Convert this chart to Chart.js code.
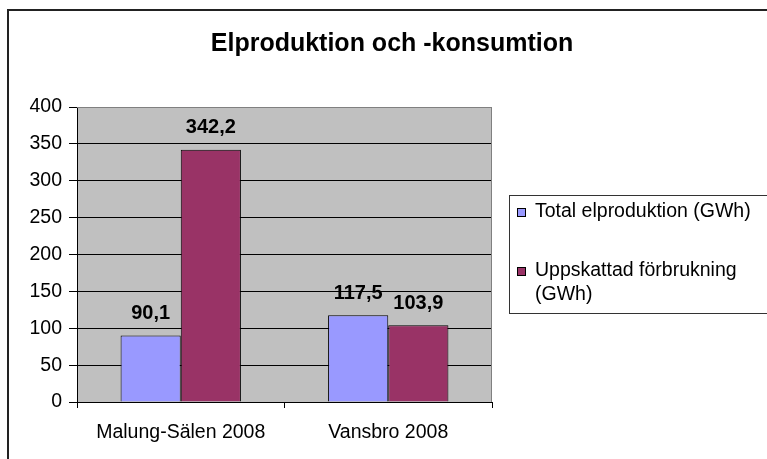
<!DOCTYPE html>
<html>
<head>
<meta charset="utf-8">
<script src="https://cdn.jsdelivr.net/npm/chart.js@4.4.0/dist/chart.umd.min.js"></script>
<style>
  html, body { margin: 0; padding: 0; background: #fff; }
  #wrap { width: 767px; height: 459px; }
</style>
</head>
<body>
<div id="wrap"><canvas id="myChart" width="767" height="459"></canvas></div>
<script>
// chart data
const categories = ['Malung-Sälen 2008', 'Vansbro 2008'];
const production = [90.1, 117.5];
const consumption = [342.2, 103.9];
const seriesNames = ['Total elproduktion (GWh)', 'Uppskattad förbrukning (GWh)'];
const yMin = 0;
const yMax = 400;
const yStep = 50;
const chartTitle = 'Elproduktion och -konsumtion';

const baseFont = 'Liberation Sans, Arial, sans-serif';

function fmt(v){
    return v.toFixed(1).replace('.', ',');
}

// gray plot background + gray top/right border + outer frame + title
const plotBackground = {
    id: 'plotBackground',
    beforeDraw(chart){
        const c = chart.ctx;
        const a = chart.chartArea;
        c.save();
        c.fillStyle = '#ffffff';
        c.fillRect(0, 0, chart.width, chart.height);
        c.fillStyle = '#c0c0c0';
        c.fillRect(a.left, a.top, a.right - a.left, a.bottom - a.top);
        c.restore();
    },
    afterDraw(chart){
        const c = chart.ctx;
        const a = chart.chartArea;
        c.save();
        c.strokeStyle = '#808080';
        c.lineWidth = 1;
        c.beginPath();
        c.moveTo(a.left, a.top + 0.5);
        c.lineTo(a.right - 0.5, a.top + 0.5);
        c.lineTo(a.right - 0.5, a.bottom);
        c.stroke();
        // outer frame
        c.strokeStyle = '#222';
        c.lineWidth = 2;
        c.strokeRect(8, 10, 800, 500);
        // title
        c.font = 'bold 25px ' + baseFont;
        c.fillStyle = '#000';
        c.textAlign = 'center';
        c.textBaseline = 'middle';
        c.fillText(chartTitle, 392, 44);
        c.restore();
    }
};

// value labels above bars
const valueLabels = {
    id: 'valueLabels',
    afterDatasetsDraw(chart){
        const c = chart.ctx;
        c.save();
        c.font = 'bold 20px ' + baseFont;
        c.fillStyle = '#000';
        c.textAlign = 'center';
        c.textBaseline = 'middle';
        chart.data.datasets.forEach((ds, i) => {
            chart.getDatasetMeta(i).data.forEach((bar, j) => {
                c.fillText(fmt(ds.data[j]), bar.x, bar.y - 22);
            });
        });
        c.restore();
    }
};

// legend box on the right
const boxLegend = {
    id: 'boxLegend',
    afterDraw(chart){
        const c = chart.ctx;
        const a = chart.chartArea;
        const left = a.right + 17;
        const top = 195;
        c.save();
        c.strokeStyle = '#333';
        c.lineWidth = 1;
        c.strokeRect(left + 0.5, top + 0.5, 300, 118);
        c.font = '19.5px ' + baseFont;
        c.textBaseline = 'middle';
        const textX = left + 26;
        const maxW = chart.width - textX - 4;
        const rows = [17, 76];
        chart.data.datasets.forEach((ds, i) => {
            // wrap words
            const words = ds.label.split(' ');
            const lines = [];
            let line = '';
            words.forEach(w => {
                const test = line ? line + ' ' + w : w;
                if (c.measureText(test).width > maxW && line) {
                    lines.push(line);
                    line = w;
                } else {
                    line = test;
                }
            });
            lines.push(line);
            const y0 = top + rows[i];
            c.fillStyle = ds.backgroundColor;
            c.fillRect(left + 8.5, y0 - 3.5, 8, 8);
            c.strokeStyle = '#000';
            c.strokeRect(left + 8.5, y0 - 3.5, 8, 8);
            c.fillStyle = '#000';
            lines.forEach((l, k) => {
                c.fillText(l, textX, y0 + k * 24);
            });
        });
        c.restore();
    }
};

const ctx = document.getElementById('myChart');
const myChart = new Chart(ctx, {
    type: 'bar',
    data: {
        labels: categories,
        datasets: [
            {
                label: seriesNames[0],
                data: production,
                backgroundColor: '#9999ff',
                borderColor: '#000',
                borderWidth: 1
            },
            {
                label: seriesNames[1],
                data: consumption,
                backgroundColor: '#993366',
                borderColor: '#000',
                borderWidth: 1
            }
        ]
    },
    options: {
        responsive: false,
        animation: false,
        categoryPercentage: 0.58,
        barPercentage: 1.0,
        layout: {
            padding: { top: 107, left: 0, right: 275, bottom: 17 }
        },
        plugins: {
            legend: { display: false },
            tooltip: { enabled: false },
            title: { display: false }
        },
        scales: {
            x: {
                grid: {
                    offset: true,
                    drawOnChartArea: false,
                    tickLength: 6,
                    tickColor: '#000'
                },
                border: { color: '#000' },
                ticks: {
                    color: '#000',
                    padding: 13,
                    font: { family: baseFont, size: 19.5 }
                },
                afterFit(scale){ scale.height = 40; }
            },
            y: {
                min: yMin,
                max: yMax,
                grid: {
                    color: (c) => c.tick && c.tick.value === yMax ? '#808080' : '#000',
                    tickLength: 8,
                    tickColor: '#000'
                },
                border: { color: '#000' },
                ticks: {
                    stepSize: yStep,
                    color: '#000',
                    padding: 7,
                    font: { family: baseFont, size: 19.5 }
                },
                afterFit(scale){ scale.width = 77; }
            }
        }
    },
    plugins: [plotBackground, valueLabels, boxLegend]
});
</script>
</body>
</html>
